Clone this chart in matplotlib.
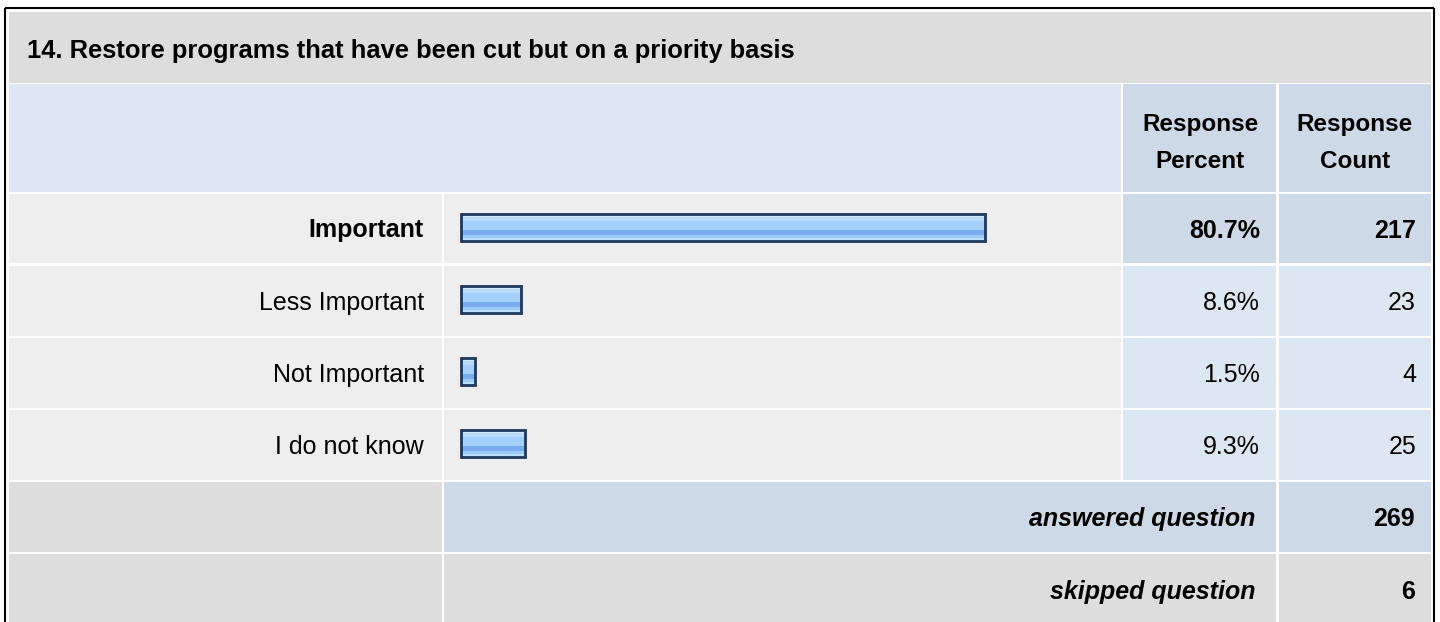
import matplotlib
matplotlib.use('Agg')
import matplotlib.pyplot as plt
from matplotlib.patches import Rectangle

plt.rcParams['font.family'] = ['Liberation Sans', 'DejaVu Sans']

# data
title = '14. Restore programs that have been cut but on a priority basis'
answers = ['Important', 'Less Important', 'Not Important', 'I do not know']
percents = [80.7, 8.6, 1.5, 9.3]
counts = [217, 23, 4, 25]
answered = 269
skipped = 6

W, H = 1440, 622
GREY = '#dddddd'
ROW = '#eeeeee'
LBLUE = '#dde7f4'
MBLUE = '#cdd9e6'

fig = plt.figure(figsize=(W / 100, H / 100), dpi=100)
bg = fig.add_axes([0, 0, 1, 1])
bg.set_xlim(0, W)
bg.set_ylim(H, 0)
bg.axis('off')


def cell(x0, x1, y0, y1, color):
    bg.add_patch(Rectangle((x0, y0), x1 - x0, y1 - y0, facecolor=color, edgecolor='none'))


# column edges (px)
c_lab = (9, 442)
c_bar = (444, 1121)
c_pct = (1123, 1276)
c_cnt = (1279, 1431)

# title + header
cell(9, 1431, 12, 83, GREY)
cell(9, 1121, 84, 192, LBLUE)
cell(c_pct[0], c_pct[1], 84, 192, MBLUE)
cell(c_cnt[0], c_cnt[1], 84, 192, MBLUE)
bg.text(27, 58, title, fontsize=18.4, fontweight='bold', va='baseline', ha='left')
for cx, word in [(1200, 'Percent'), (1355, 'Count')]:
    bg.text(cx, 131, 'Response', fontsize=17.5, fontweight='bold', ha='center', va='baseline')
    bg.text(cx, 168, word, fontsize=17.5, fontweight='bold', ha='center', va='baseline')

# answer rows
row_tops = [194, 266, 338, 410]
row_bots = [263, 336, 408, 480]
for i, (lab, p, n) in enumerate(zip(answers, percents, counts)):
    y0, y1 = row_tops[i], row_bots[i]
    side = MBLUE if i == 0 else LBLUE
    cell(c_lab[0], c_lab[1], y0, y1, ROW)
    cell(c_bar[0], c_bar[1], y0, y1, ROW)
    cell(c_pct[0], c_pct[1], y0, y1, side)
    cell(c_cnt[0], c_cnt[1], y0, y1, side)
    yb = (y0 + y1) / 2 + 9
    fw = 'bold' if i == 0 else 'normal'
    bg.text(424, yb, lab, fontsize=18, fontweight=fw, ha='right', va='baseline')
    bg.text(1260, yb, f'{p}%', fontsize=18, fontweight=fw, ha='right', va='baseline')
    bg.text(1416, yb, str(n), fontsize=18, fontweight=fw, ha='right', va='baseline')

# summary rows
cell(c_lab[0], c_lab[1], 482, 552, GREY)
cell(c_bar[0], c_pct[1], 482, 552, MBLUE)
cell(c_cnt[0], c_cnt[1], 482, 552, MBLUE)
cell(c_lab[0], c_lab[1], 554, H, GREY)
cell(c_bar[0], c_pct[1], 554, H, GREY)
cell(c_cnt[0], c_cnt[1], 554, H, GREY)
for yb, txt, val in [(526, 'answered question', answered), (599, 'skipped question', skipped)]:
    bg.text(1255, yb, txt, fontsize=18, fontweight='bold', fontstyle='italic', ha='right', va='baseline')
    bg.text(1415, yb, str(val), fontsize=18, fontweight='bold', ha='right', va='baseline')

# outer border
bg.plot([5, 5], [8, H], color='black', lw=1.5, solid_capstyle='butt')
bg.plot([5, 1434], [8, 8], color='black', lw=1.5, solid_capstyle='butt')
bg.plot([1434, 1434], [8, H], color='black', lw=1.5, solid_capstyle='butt')

# bars, in their own axes over the bar column
px_per_pct = 6.44
bx0, bx1 = 444, 1121
by0, by1 = 191.5, 479.5
axb = fig.add_axes([bx0 / W, (H - by1) / H, (bx1 - bx0) / W, (by1 - by0) / H])
axb.set_xlim(0, (bx1 - bx0) / px_per_pct)
axb.set_ylim(len(answers) - 0.5, -0.5)
axb.axis('off')
axb.patch.set_alpha(0)

row_px = (by1 - by0) / len(answers)
left = 2.68
pad = 0.62
ypos = list(range(len(answers)))
widths = [p + pad for p in percents]
bar_h = 26.5 / row_px
axb.barh(ypos, widths, left=left, height=bar_h, color='#a3cffd', edgecolor='none')
stripes = [(-13.2, -10.5, '#d2e8ff'), (-10.5, -7, '#b8dafd'), (-7, 2, '#a3cffd'),
           (2, 7, '#78adf0'), (7, 10, '#9ccafb'), (10, 13.2, '#bcdeff')]
for a, b, col in stripes:
    axb.barh([y + (a + b) / 2 / row_px for y in ypos], widths, left=left,
             height=(b - a) / row_px, color=col, edgecolor='none')
axb.barh(ypos, widths, left=left, height=bar_h, facecolor='none',
         edgecolor='#1f3859', linewidth=2.0)

fig.savefig('out.png', dpi=100, facecolor='white')
